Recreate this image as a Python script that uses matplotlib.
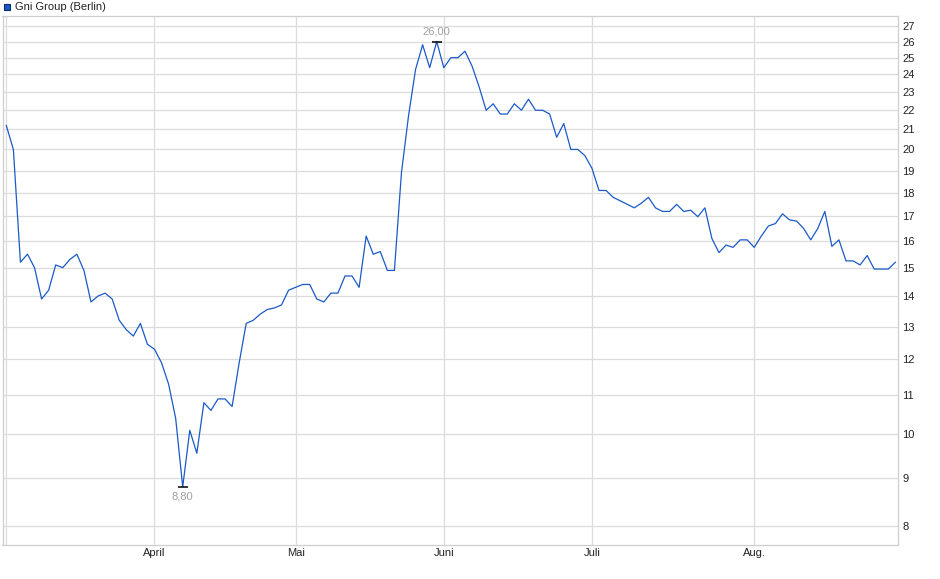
import matplotlib
matplotlib.use("Agg")
import matplotlib.pyplot as plt
import numpy as np
import pandas as pd
from matplotlib.patches import Rectangle
from matplotlib.ticker import FixedLocator, FixedFormatter, NullLocator

plt.rcParams["font.family"] = ["Liberation Sans", "DejaVu Sans"]

# Trading days (Berlin), March - August 2025
holidays = ["2025-04-18", "2025-04-21", "2025-05-01"]
dates = pd.bdate_range("2025-03-03", "2025-08-29")
dates = dates[~dates.isin(pd.to_datetime(holidays))]

prices = [
    21.2, 20.0, 15.2, 15.5, 15.0, 13.9, 14.2, 15.1, 15.0, 15.3,
    15.5, 14.9, 13.8, 14.0, 14.1, 13.9, 13.2, 12.9, 12.7, 13.1,
    12.45, 12.3, 11.9, 11.3, 10.4, 8.8, 10.1, 9.55, 10.8, 10.6,
    10.9, 10.9, 10.7, 11.9, 13.1, 13.2, 13.4, 13.55, 13.6, 13.7,
    14.2, 14.3, 14.4, 14.4, 13.9, 13.8, 14.1, 14.1, 14.7, 14.7,
    14.3, 16.2, 15.5, 15.6, 14.9, 14.9, 18.9, 21.7, 24.3, 25.8,
    24.4, 26.0, 24.4, 25.0, 25.0, 25.4, 24.5, 23.3, 22.0, 22.35,
    21.8, 21.8, 22.35, 22.0, 22.6, 22.0, 22.0, 21.8, 20.6, 21.3,
    20.0, 20.0, 19.7, 19.1, 18.1, 18.1, 17.8, 17.65, 17.5, 17.35,
    17.55, 17.8, 17.35, 17.2, 17.2, 17.5, 17.2, 17.25, 16.98, 17.35,
    16.1, 15.56, 15.85, 15.76, 16.05, 16.05, 15.76, 16.2, 16.6, 16.7,
    17.1, 16.85, 16.8, 16.5, 16.05, 16.5, 17.2, 15.8, 16.05, 15.25,
    15.25, 15.1, 15.45, 14.95, 14.95, 14.95, 15.2,
]

month_names = {3: "", 4: "April", 5: "Mai", 6: "Juni", 7: "Juli", 8: "Aug."}
y_ticks = list(range(8, 28))
series_name = "Gni Group (Berlin)"

pos = np.arange(len(dates))
month_starts = [i for i in range(len(dates)) if i == 0 or dates[i].month != dates[i - 1].month]
month_labels = [month_names[dates[i].month] for i in month_starts]

W, H = 940, 579
fig = plt.figure(figsize=(W / 100, H / 100), dpi=100)
ax = fig.add_axes([2.5 / W, 1 - 545 / H, (898 - 2.5) / W, (545 - 16) / H])

line_color = "#1a5ac8"
ax.plot(pos, prices, color=line_color, lw=0.9)

ax.set_yscale("log")
ax.set_ylim(7.64, 27.67)
ax.set_xlim(-0.54, 126.37)

ax.yaxis.set_major_locator(FixedLocator(y_ticks))
ax.yaxis.set_major_formatter(FixedFormatter([str(t) for t in y_ticks]))
ax.yaxis.set_minor_locator(NullLocator())
ax.yaxis.tick_right()

ax.xaxis.set_major_locator(FixedLocator(month_starts))
ax.xaxis.set_major_formatter(FixedFormatter(month_labels))

ax.tick_params(axis="y", length=0, pad=3, labelsize=8, labelcolor="#222222")
ax.tick_params(axis="x", length=0, pad=2.5, labelsize=8, labelcolor="#222222")
ax.grid(True, color="#dcdcdc", lw=0.9)
ax.set_axisbelow(True)
for s in ax.spines.values():
    s.set_color("#cfcfcf")
    s.set_linewidth(0.9)

# high / low markers
arr = np.array(prices)
imax, imin = int(arr.argmax()), int(arr.argmin())
for idx, off, va in [(imax, 3.5, "bottom"), (imin, -3.5, "top")]:
    ax.plot(idx, arr[idx], marker="_", ms=7, mew=1.1, color="black")
    ax.annotate(f"{arr[idx]:.2f}".replace(".", ","), (idx, arr[idx]),
                xytext=(0, off), textcoords="offset points",
                ha="center", va=va, fontsize=8, color="#a0a0a0")

# legend
fig.patches.append(Rectangle((3.5 / W, 1 - 10 / H), 6.5 / W, 6.5 / H,
                             transform=fig.transFigure, facecolor=line_color,
                             edgecolor="#0a2a6a", lw=0.8))
fig.text(15 / W, 1 - 6.5 / H, series_name, fontsize=8, va="center",
         ha="left", color="#222222")

fig.savefig("out.png", dpi=100)
